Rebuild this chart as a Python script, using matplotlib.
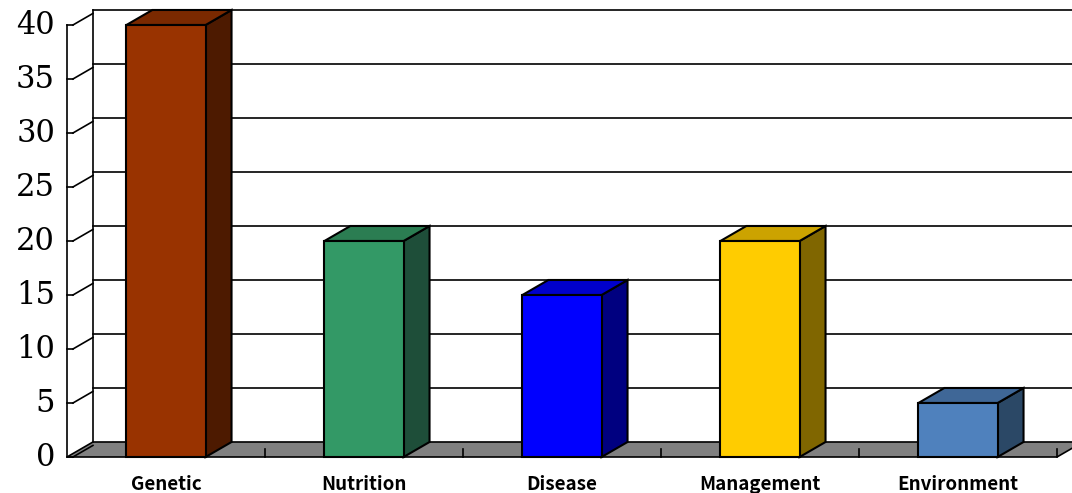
import numpy as np
import matplotlib.pyplot as plt
from matplotlib.patches import Polygon

# data
categories = ['Genetic', 'Nutrition', 'Disease', 'Management', 'Environment']
values = [40, 20, 15, 20, 5]
front_colors = ['#993300', '#339966', '#0000ff', '#ffcc00', '#4f81bd']
top_colors = ['#7a2900', '#2b7d52', '#0000cc', '#cca300', '#3f6797']
side_colors = ['#4d1a00', '#1e4e39', '#000080', '#806600', '#2b4866']
yticks = [0, 5, 10, 15, 20, 25, 30, 35, 40]

# 3D depth offset (data units) and bar half width
dx, dy = 0.131, 1.39
hw = 0.2

fig = plt.figure(figsize=(10.72, 4.93), dpi=100)
ax = fig.add_axes([0, 0, 1, 1])
ax.set_xlim(-67 / 198, 1005 / 198)
ax.set_ylim(-36 / 10.8, 457 / 10.8)
ax.axis('off')

lc = 'black'
lw = 1.2
n = len(categories)
ymax = yticks[-1]

# floor
floor = Polygon([(0, 0), (n, 0), (n + dx, dy), (dx, dy)], closed=True,
                facecolor='#808080', edgecolor=lc, linewidth=lw, zorder=1)
ax.add_patch(floor)

# walls: back gridlines + side wall lines
for t in yticks:
    if t > 0:
        ax.plot([dx, n + dx + 1], [t + dy, t + dy], color=lc, lw=lw, zorder=1)
    ax.plot([0, 0.03], [t, t], color=lc, lw=lw, zorder=1)
    ax.plot([0.03, dx], [t, t + dy * (dx - 0.03) / dx], color=lc, lw=lw, zorder=1)
    ax.text(-0.06, t, str(t), ha='right', va='center', fontsize=22,
            family='DejaVu Serif')
ax.plot([0, 0], [0, ymax], color=lc, lw=lw, zorder=1)
ax.plot([dx, dx], [dy, ymax + dy], color=lc, lw=lw, zorder=1)

# floor ticks at category boundaries
for k in range(1, n + 1):
    ax.plot([k, k], [0, 0.75], color=lc, lw=lw, zorder=1)

# bars
for i, (cat, v) in enumerate(zip(categories, values)):
    c = i + 0.5
    x0, x1 = c - hw, c + hw
    front = Polygon([(x0, 0), (x1, 0), (x1, v), (x0, v)], closed=True,
                    facecolor=front_colors[i], edgecolor=lc, linewidth=1.5, zorder=4)
    side = Polygon([(x1, 0), (x1 + dx, dy), (x1 + dx, v + dy), (x1, v)], closed=True,
                   facecolor=side_colors[i], edgecolor=lc, linewidth=1.5, zorder=3)
    top = Polygon([(x0, v), (x1, v), (x1 + dx, v + dy), (x0 + dx, v + dy)], closed=True,
                  facecolor=top_colors[i], edgecolor=lc, linewidth=1.5, zorder=3)
    for p in (side, top, front):
        ax.add_patch(p)
    ax.text(c, -2.5, cat, ha='center', va='center', fontsize=13.5,
            family=['Noto Sans CJK SC', 'DejaVu Sans'], fontweight='semibold')

fig.savefig('out.png', dpi=100, facecolor='white')
